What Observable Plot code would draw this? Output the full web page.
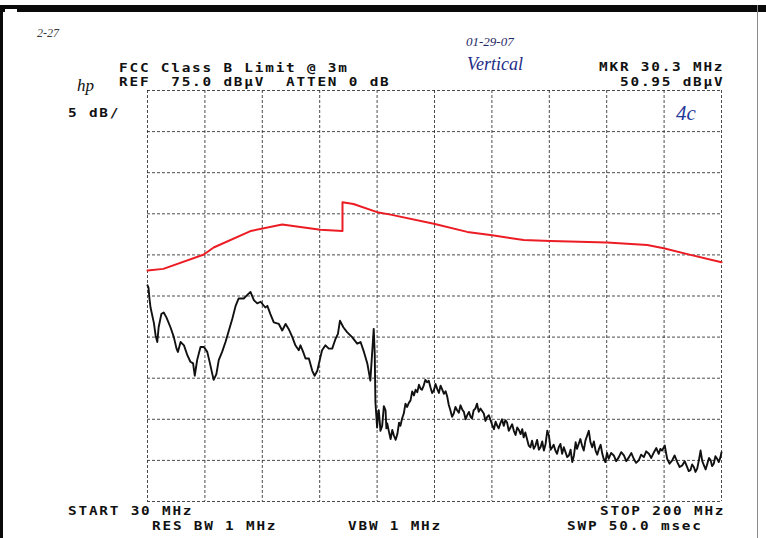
<!DOCTYPE html>
<html>
<head>
<meta charset="utf-8">
<script src="https://cdn.jsdelivr.net/npm/d3@7"></script>
<script src="https://cdn.jsdelivr.net/npm/@observablehq/plot@0.6"></script>
<style>
  html, body { margin: 0; padding: 0; background: #fff; }
  #sheet { position: relative; width: 766px; height: 538px; overflow: hidden; }
  #sheet svg { position: absolute; left: 0; top: 0; }
</style>
</head>
<body>
<div id="sheet"></div>
<script>
// Sweep settings: 30–200 MHz span, 75 dBµV reference, 5 dB/div
const freqGrid = [30, 47, 64, 81, 98, 115, 132, 149, 166, 183, 200];
const levelGrid = [25, 30, 35, 40, 45, 50, 55, 60, 65, 70, 75];

// FCC Class B limit at 3 m (converted to dBµV at the analyzer input)
const limitFreq = [30, 34.7, 46.7, 49.6, 60.5, 69.9, 81.2, 87.75, 87.75, 91.0, 98.0, 102.0, 114.8, 124.7, 132.1, 141.4, 149.4, 166.1, 178.0, 182.9, 190.8, 200];
const limitLevel = [53.1, 53.3, 55.05, 55.9, 57.9, 58.7, 58.05, 57.9, 61.4, 61.2, 60.2, 59.9, 58.8, 57.8, 57.4, 56.8, 56.7, 56.5, 56.2, 55.8, 55.0, 54.1];

// Measured emissions trace, vertical antenna: 30 – 97.5 MHz
const traceFreqLow = [
  30.0, 30.3, 30.6, 30.9, 31.9, 32.4, 32.9, 33.3, 34.1, 34.8,
  35.6, 36.8, 37.8, 38.6, 39.0, 39.8, 40.8, 41.8, 42.7, 43.5,
  44.0, 44.7, 45.7, 46.7, 47.7, 48.5, 49.2, 49.6, 50.4, 51.1,
  52.1, 53.1, 54.1, 55.1, 56.1, 57.0, 58.5, 59.5, 60.5, 61.5,
  62.5, 63.5, 64.9, 65.5, 66.4, 67.4, 68.9, 69.9, 70.9, 71.8,
  72.9, 73.8, 74.8, 75.3, 76.1, 76.8, 77.8, 78.8, 79.5, 80.3,
  81.0, 81.7, 82.7, 83.7, 84.7, 85.7, 86.4, 87.0, 88.0, 89.1,
  90.6, 92.1, 93.1, 94.1, 95.1, 96.0, 97.0, 97.3, 97.5
];
const traceLevelLow = [
  51.3, 51.0, 49.6, 48.6, 46.7, 45.2, 44.4, 46.2, 47.8, 48.0,
  47.4, 46.2, 45.0, 43.6, 43.2, 44.4, 44.0, 42.8, 42.0, 41.8,
  40.3, 42.2, 43.8, 43.8, 43.2, 41.8, 40.5, 39.8, 40.5, 42.2,
  43.2, 44.4, 45.8, 47.2, 48.8, 49.7, 49.7, 50.1, 50.5, 49.5,
  49.1, 49.3, 48.6, 48.8, 47.8, 46.8, 46.6, 45.8, 46.6, 46.0,
  45.0, 44.0, 43.4, 44.0, 43.2, 42.4, 42.4, 40.9, 40.3, 40.9,
  42.2, 43.4, 44.0, 43.6, 43.6, 44.8, 45.4, 47.0, 46.2, 45.6,
  45.0, 44.2, 44.4, 43.2, 41.8, 39.7, 46.0, 43.0, 37.1
];

// Measured emissions trace, vertical antenna: 98 – 200 MHz (noise floor region)
const traceFreqHigh = [
  98.0, 98.25, 98.5, 99.0, 99.5, 100.0, 100.5, 100.75, 101.0, 101.5,
  102.0, 102.5, 103.0, 103.5, 104.0, 104.5, 104.9, 105.4, 105.9, 106.4,
  106.9, 107.4, 107.9, 108.4, 108.9, 109.4, 109.9, 110.4, 110.9, 111.3,
  111.8, 112.3, 112.8, 113.3, 113.8, 114.3, 114.8, 115.3, 115.8, 116.3,
  116.8, 117.3, 117.8, 118.3, 118.8, 119.2, 119.7, 120.2, 120.7, 121.2,
  121.7, 122.2, 122.7, 123.2, 123.7, 124.2, 124.7, 125.2, 125.7, 126.1,
  126.6, 127.1, 127.6, 128.1, 128.6, 129.1, 129.6, 130.1, 130.6, 131.1,
  131.6, 132.1, 132.6, 133.1, 133.6, 134.0, 134.5, 135.0, 135.5, 136.0,
  136.5, 137.0, 137.5, 138.0, 138.5, 139.0, 139.5, 140.0, 140.5, 141.0,
  141.4, 141.9, 142.4, 142.9, 143.4, 143.9, 144.4, 144.9, 145.4, 145.9,
  146.4, 146.9, 147.4, 147.9, 148.4, 148.9, 149.4, 149.9, 150.3, 150.8,
  151.3, 151.8, 152.3, 152.8, 153.3, 153.8, 154.3, 154.8, 155.3, 155.8,
  156.3, 156.8, 157.2, 157.7, 158.2, 158.7, 159.2, 159.7, 160.2, 160.7,
  161.2, 161.7, 162.2, 162.7, 163.2, 163.7, 164.2, 164.7, 165.1, 165.6,
  166.1, 166.6, 167.3, 168.1, 168.8, 169.6, 170.3, 171.1, 171.8, 172.6,
  173.3, 174.0, 174.7, 175.5, 176.2, 177.0, 177.7, 178.5, 179.2, 180.0,
  180.7, 181.4, 181.9, 182.4, 183.2, 183.9, 184.6, 185.4, 186.1, 186.9,
  187.6, 188.4, 189.1, 189.8, 190.3, 190.8, 191.3, 191.8, 192.3, 192.8,
  193.3, 193.8, 194.3, 194.8, 195.3, 195.8, 196.3, 196.8, 197.2, 197.7,
  198.2, 198.7, 199.2, 199.7, 200.0
];
const traceLevelHigh = [
  34.0, 35.6, 36.1, 33.6, 34.2, 36.6, 36.1, 33.9, 34.5, 33.5,
  32.6, 33.7, 33.0, 32.5, 33.2, 34.6, 34.2, 35.1, 35.7, 36.9,
  36.5, 37.0, 37.3, 38.4, 37.9, 38.6, 38.3, 39.2, 38.7, 38.6,
  39.1, 39.8, 39.5, 39.7, 38.9, 38.2, 38.5, 39.3, 38.7, 38.2,
  39.1, 38.6, 38.1, 38.4, 37.7, 36.8, 36.1, 35.3, 35.7, 36.5,
  36.1, 35.8, 36.7, 36.2, 35.9, 35.0, 35.5, 35.9, 35.3, 35.1,
  36.1, 36.3, 36.9, 35.9, 36.3, 36.0, 35.7, 34.8, 35.3, 35.5,
  34.9, 34.3, 33.8, 34.7, 34.2, 33.9, 34.5, 35.0, 34.2, 34.9,
  34.6, 33.6, 34.0, 34.4, 33.6, 33.1, 34.0, 33.7, 33.2, 33.8,
  32.8, 33.4, 32.6, 31.8, 31.6, 32.4, 31.4, 31.8, 32.5, 31.3,
  31.6, 32.3, 31.2, 32.0, 33.6, 33.0, 31.3, 31.6, 31.9, 31.2,
  30.8, 31.6, 32.0, 30.8, 31.6, 31.0, 30.4, 30.6, 31.3, 29.8,
  30.6, 32.2, 31.4, 32.0, 32.6, 31.8, 31.2, 32.4, 33.0, 33.6,
  32.2, 31.6, 32.3, 31.2, 30.7, 31.4, 31.9, 30.8, 30.2, 29.8,
  30.9, 30.2, 30.9, 30.6, 29.9, 30.4, 31.0, 30.6, 29.9, 30.4,
  30.9, 30.2, 29.7, 30.0, 30.7, 30.4, 31.1, 30.8, 30.3, 31.0,
  31.5, 30.8, 31.4, 31.2, 31.8, 30.2, 29.6, 30.0, 30.6, 29.8,
  29.2, 29.4, 29.9, 29.2, 28.7, 28.8, 29.5, 29.2, 28.6, 29.0,
  30.0, 31.2, 29.9, 29.4, 28.9, 29.6, 30.3, 30.0, 29.3, 29.6,
  30.5, 30.2, 29.8, 30.4, 31.0
];

const traceFreq = traceFreqLow.concat(traceFreqHigh);
const traceLevel = traceLevelLow.concat(traceLevelHigh);

const limit = limitFreq.map((f, i) => ({f, level: limitLevel[i]}));
const trace = traceFreq.map((f, i) => ({f, level: traceLevel[i]}));

const gridStyle = {stroke: "#2b2b2b", strokeWidth: 1, strokeDasharray: "3,2", strokeOpacity: 0.85};

const svg = Plot.plot({
  width: 766,
  height: 538,
  marginLeft: 147,
  marginRight: 45,
  marginTop: 90,
  marginBottom: 37,
  x: {domain: [30, 200], axis: null},
  y: {domain: [25, 75], axis: null},
  style: {background: "transparent", overflow: "visible"},
  marks: [
    Plot.ruleX(freqGrid, gridStyle),
    Plot.ruleY(levelGrid, gridStyle),
    Plot.line(limit, {x: "f", y: "level", stroke: "#ec1c24", strokeWidth: 2}),
    Plot.line(trace, {x: "f", y: "level", stroke: "#111", strokeWidth: 1.9})
  ]
});

const s = d3.select(svg);

// sheet edges of the printout
s.append("rect").attr("x", 0).attr("y", 5).attr("width", 766).attr("height", 7).attr("fill", "#0a0a0a");
s.append("rect").attr("x", 5).attr("y", 9).attr("width", 12).attr("height", 5).attr("fill", "#fff");
s.append("rect").attr("x", 0).attr("y", 5).attr("width", 3).attr("height", 533).attr("fill", "#0a0a0a");
s.append("rect").attr("x", 757).attr("y", 5).attr("width", 1).attr("height", 533).attr("fill", "#8a8a8a");

// analyzer annotations: wide fixed-pitch plotter lettering, 10.45 px per character
const mono = (x, y, str) => s.append("text")
  .attr("transform", `translate(${x},${y}) scale(1.25,1)`)
  .attr("text-anchor", "start")
  .attr("font-family", "DejaVu Sans Mono")
  .attr("font-size", 11.5)
  .attr("font-weight", "bold")
  .attr("letter-spacing", "1.44px")
  .attr("fill", "#111")
  .text(str);

mono(119, 72, "FCC Class B Limit @ 3m");
mono(119, 86, "REF  75.0 dBµV  ATTEN 0 dB");
mono(599, 71, "MKR 30.3 MHz");
mono(620, 86, "50.95 dBµV");
mono(68, 117, "5 dB/");
mono(68, 515, "START 30 MHz");
mono(600, 515, "STOP 200 MHz");
mono(152, 530, "RES BW 1 MHz");
mono(348, 530, "VBW 1 MHz");
mono(567, 530, "SWP 50.0 msec");

// hand-written notes on the sheet
const hand = (x, y, str, size, color) => s.append("text")
  .attr("x", x).attr("y", y)
  .attr("text-anchor", "start")
  .attr("font-family", "Liberation Serif")
  .attr("font-style", "italic")
  .attr("font-size", size)
  .attr("fill", color)
  .text(str);

hand(37, 37, "2-27", 12, "#3a3a3a");
hand(466, 46, "01-29-07", 13, "#1f2a66");
hand(467, 70, "Vertical", 18, "#1c2d85");
hand(676, 120, "4c", 21, "#26379a");
hand(77, 91, "hp", 17, "#111");

document.getElementById("sheet").appendChild(svg);
</script>
</body>
</html>
